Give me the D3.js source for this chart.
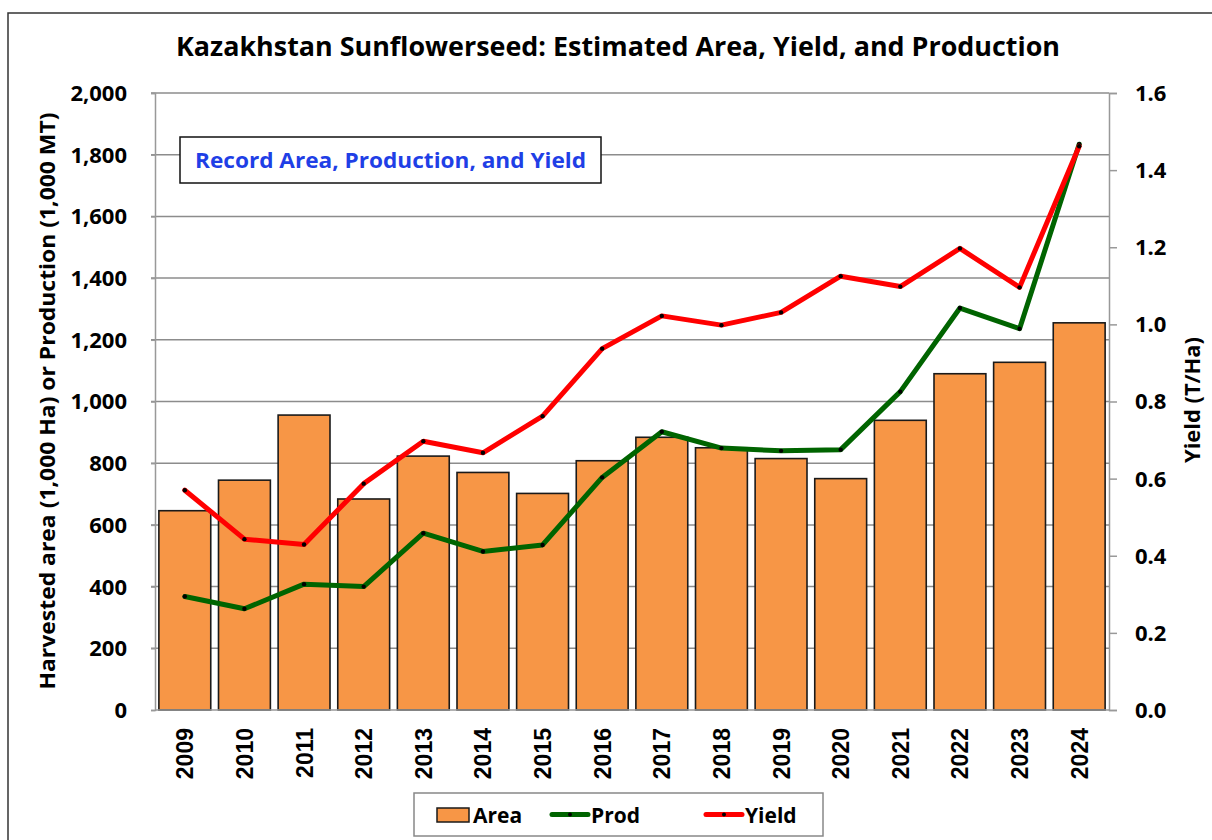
<!DOCTYPE html>
<html>
<head>
<meta charset="utf-8">
<script src="https://cdn.jsdelivr.net/npm/d3@7"></script>
<style>
  html, body { margin: 0; padding: 0; background: #fff; }
  svg { display: block; }
</style>
</head>
<body>
<svg id="chart" width="1212" height="840"></svg>
<script>
// Kazakhstan sunflowerseed: harvested area, production and yield by marketing year
const years = ["2009","2010","2011","2012","2013","2014","2015","2016","2017","2018","2019","2020","2021","2022","2023","2024"];
const area  = [646, 745, 956, 684, 823, 770, 702, 808, 884, 850, 815, 750, 939, 1090, 1127, 1255];   // 1,000 Ha
const prod  = [368, 328, 408, 400, 573, 514, 535, 754, 902, 849, 840, 844, 1032, 1303, 1236, 1834]; // 1,000 MT
const yieldTHa = [0.570, 0.443, 0.429, 0.587, 0.697, 0.667, 0.762, 0.937, 1.022, 0.998, 1.031, 1.125, 1.098, 1.197, 1.096, 1.462];
const leftTicks  = [0, 200, 400, 600, 800, 1000, 1200, 1400, 1600, 1800, 2000];
const rightTicks = [0, 0.2, 0.4, 0.6, 0.8, 1.0, 1.2, 1.4, 1.6];

const svg = d3.select("#chart");
const plot = { left: 155, right: 1109, top: 93, bottom: 710 };
const sans = "'Open Sans', Lato, sans-serif";

// outer frame
svg.append("rect").attr("x", 8).attr("y", 13).attr("width", 1220).attr("height", 840)
  .attr("fill", "none").attr("stroke", "#333").attr("stroke-width", 1.5);

const x = d3.scaleBand().domain(years).range([plot.left, plot.right])
  .paddingInner(0.13).paddingOuter(0.065);
const yL = d3.scaleLinear().domain([0, 2000]).range([plot.bottom, plot.top]);
const yR = d3.scaleLinear().domain([0, 1.6]).range([plot.bottom, plot.top]);

// gridlines
svg.append("g").selectAll("line").data(leftTicks.filter(d => d > 0)).join("line")
  .attr("x1", plot.left - 4).attr("x2", plot.right)
  .attr("y1", d => yL(d)).attr("y2", d => yL(d))
  .attr("stroke", "#8c8c8c").attr("stroke-width", 1.5);

// left axis
const axL = svg.append("g").attr("transform", `translate(${plot.left},0)`)
  .call(d3.axisLeft(yL).tickValues(leftTicks).tickFormat(d3.format(",")).tickSize(4).tickPadding(24));
axL.select(".domain").attr("stroke", "#999").attr("stroke-width", 1.5);
axL.selectAll(".tick line").attr("stroke", "#999").attr("stroke-width", 1.5);
axL.selectAll("text").attr("font-family", sans).attr("font-weight", "bold")
  .attr("font-size", 22).attr("fill", "#000").attr("dy", "0.34em");

// right axis
const axR = svg.append("g").attr("transform", `translate(${plot.right},0)`)
  .call(d3.axisRight(yR).tickValues(rightTicks).tickFormat(d3.format(".1f")).tickSize(8).tickPadding(18));
axR.select(".domain").attr("stroke", "#999").attr("stroke-width", 1.5);
axR.selectAll(".tick line").attr("stroke", "#999").attr("stroke-width", 1.5);
axR.selectAll("text").attr("font-family", sans).attr("font-weight", "bold")
  .attr("font-size", 22).attr("fill", "#000").attr("dy", "0.34em");

// bars
svg.append("g").selectAll("rect").data(years).join("rect")
  .attr("x", d => x(d)).attr("width", x.bandwidth())
  .attr("y", (d, i) => yL(area[i])).attr("height", (d, i) => yL(0) - yL(area[i]))
  .attr("fill", "#F79646").attr("stroke", "#1a1a1a").attr("stroke-width", 1.6);

// bottom axis line
svg.append("line").attr("x1", plot.left).attr("x2", plot.right)
  .attr("y1", plot.bottom).attr("y2", plot.bottom)
  .attr("stroke", "#999").attr("stroke-width", 1.5);

// year labels
const cx = d => x(d) + x.bandwidth() / 2;
svg.append("g").selectAll("text").data(years).join("text")
  .attr("transform", d => `translate(${cx(d) + 8.5},728) rotate(-90)`)
  .attr("text-anchor", "end")
  .attr("font-family", "'Liberation Sans', Arial, sans-serif").attr("font-weight", "bold")
  .attr("font-size", 23).attr("fill", "#000").text(d => d);

// lines
function drawSeries(values, scale, color) {
  const pts = years.map((d, i) => [cx(d), scale(values[i])]);
  svg.append("path").attr("d", d3.line()(pts))
    .attr("fill", "none").attr("stroke", color).attr("stroke-width", 5)
    .attr("stroke-linejoin", "round").attr("stroke-linecap", "round");
  svg.append("g").selectAll("circle").data(pts).join("circle")
    .attr("cx", p => p[0]).attr("cy", p => p[1]).attr("r", 2.2).attr("fill", "#000");
}
drawSeries(prod, yL, "#006400");
drawSeries(yieldTHa, yR, "#FF0000");

// title
svg.append("text").attr("x", 618).attr("y", 56).attr("text-anchor", "middle")
  .attr("font-family", sans).attr("font-weight", "bold").attr("font-size", 27)
  .attr("textLength", 884).attr("lengthAdjust", "spacingAndGlyphs")
  .text("Kazakhstan Sunflowerseed: Estimated Area, Yield, and Production");

// axis titles
svg.append("text").attr("transform", "translate(55,401) rotate(-90)")
  .attr("text-anchor", "middle").attr("font-family", sans).attr("font-weight", "bold")
  .attr("font-size", 21).attr("textLength", 577).attr("lengthAdjust", "spacingAndGlyphs")
  .text("Harvested area (1,000 Ha) or Production (1,000 MT)");
svg.append("text").attr("transform", "translate(1200,400) rotate(-90)")
  .attr("text-anchor", "middle").attr("font-family", sans).attr("font-weight", "bold")
  .attr("font-size", 21).attr("textLength", 126).attr("lengthAdjust", "spacingAndGlyphs")
  .text("Yield (T/Ha)");

// annotation box
svg.append("rect").attr("x", 180).attr("y", 137).attr("width", 421).attr("height", 46)
  .attr("fill", "#fff").attr("stroke", "#111").attr("stroke-width", 1.5);
svg.append("text").attr("x", 390.5).attr("y", 168).attr("text-anchor", "middle")
  .attr("font-family", sans).attr("font-weight", "bold").attr("font-size", 21)
  .attr("textLength", 391).attr("lengthAdjust", "spacingAndGlyphs")
  .attr("fill", "#1f3fe6").text("Record Area, Production, and Yield");

// legend
const lg = svg.append("g");
lg.append("rect").attr("x", 414).attr("y", 793).attr("width", 409).attr("height", 43)
  .attr("fill", "#fff").attr("stroke", "#888").attr("stroke-width", 1.5);
lg.append("rect").attr("x", 437).attr("y", 808).attr("width", 32).attr("height", 14)
  .attr("fill", "#F79646").attr("stroke", "#1a1a1a").attr("stroke-width", 1.5);
lg.append("text").attr("x", 473).attr("y", 823).attr("font-family", sans)
  .attr("font-weight", "bold").attr("font-size", 21).text("Area");
[["Prod", "#006400", 552, 591], ["Yield", "#FF0000", 706, 745]].forEach(([name, color, x0, tx]) => {
  lg.append("line").attr("x1", x0).attr("x2", x0 + 36).attr("y1", 814.5).attr("y2", 814.5)
    .attr("stroke", color).attr("stroke-width", 5).attr("stroke-linecap", "round");
  lg.append("circle").attr("cx", x0 + 18).attr("cy", 814.5).attr("r", 2).attr("fill", "#000");
  lg.append("text").attr("x", tx).attr("y", 823).attr("font-family", sans)
    .attr("font-weight", "bold").attr("font-size", 21).text(name);
});
</script>
</body>
</html>
